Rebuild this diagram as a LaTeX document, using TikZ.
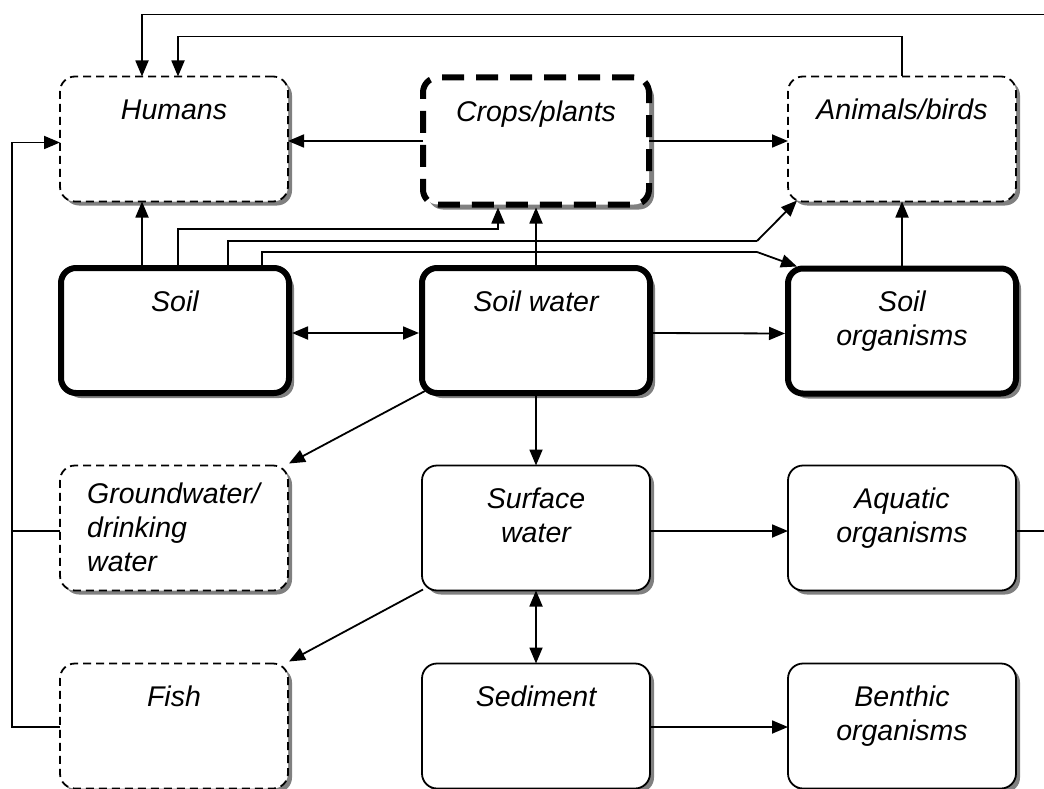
\documentclass[tikz,border=0pt]{standalone}
\usepackage{fontspec}
\setmainfont{Liberation Sans}
\usetikzlibrary{arrows.meta,shadows,calc}

\begin{document}
\begin{tikzpicture}[x=1pt,y=-1pt,
  box/.style={rounded corners=15pt, minimum width=228pt, minimum height=125pt,
    fill=white, inner sep=0pt, outer sep=0pt},
  thinbox/.style={box, draw, line width=1.8pt,
    drop shadow={shadow xshift=4pt, shadow yshift=-4pt, fill=black!50, opacity=1}},
  dashbox/.style={thinbox, dash pattern=on 8pt off 5pt},
  heavybox/.style={box, draw, line width=6pt,
    drop shadow={shadow xshift=5pt, shadow yshift=-5pt, fill=black!50, opacity=1}},
  heavydash/.style={heavybox, dash pattern=on 22pt off 12pt},
  lbl/.style={font=\fontsize{28.5}{34}\selectfont\itshape, align=center, anchor=base, inner sep=0pt},
  link/.style={line width=1.8pt},
  arr/.style={link, -{Triangle[length=16pt,width=13pt]}},
  biarr/.style={link, {Triangle[length=16pt,width=13pt]}-{Triangle[length=16pt,width=13pt]}},
]
\useasboundingbox (0,0) rectangle (1044,789);
\clip (0,0) rectangle (1044,789);

% receptor boxes, top row
\node[dashbox]  (humans)  at (174,139) {};
\node[heavydash, minimum width=226pt, minimum height=127pt] (crops) at (536,141) {};
\node[dashbox]  (animals) at (902,139) {};
% soil compartment row
\node[heavybox] (soil)    at (175,330.5) {};
\node[heavybox] (soilw)   at (536,330.5) {};
\node[heavybox] (soilorg) at (902,331) {};
% water row
\node[dashbox]  (ground)  at (174,528) {};
\node[thinbox]  (surf)    at (536,528) {};
\node[thinbox]  (aqua)    at (902,528) {};
% sediment row
\node[dashbox]  (fish)    at (174,726) {};
\node[thinbox]  (sed)     at (536,726) {};
\node[thinbox]  (benth)   at (902,726) {};

% labels (a multi-line label sits on the baseline of its last line)
\node[lbl] (humans-t)  at ($(humans.north)+(0,43)$)  {Humans};
\node[lbl] (crops-t)   at ($(crops.north)+(0,44)$)   {Crops/plants};
\node[lbl] (animals-t) at ($(animals.north)+(0,43)$) {Animals/birds};
\node[lbl] (soil-t)    at ($(soil.north)+(0,43)$)    {Soil};
\node[lbl] (soilw-t)   at ($(soilw.north)+(0,43)$)   {Soil water};
\node[lbl] (soilorg-t) at ($(soilorg.north)+(0,77)$) {Soil\\organisms};
\node[lbl, align=left, anchor=base west] (ground-t) at ($(ground.north west)+(27,106)$) {Groundwater/\\drinking\\water};
\node[lbl] (surf-t)    at ($(surf.north)+(0,77)$)    {Surface\\water};
\node[lbl] (aqua-t)    at ($(aqua.north)+(0,77)$)    {Aquatic\\organisms};
\node[lbl] (fish-t)    at ($(fish.north)+(0,43)$)    {Fish};
\node[lbl] (sed-t)     at ($(sed.north)+(0,43)$)     {Sediment};
\node[lbl] (benth-t)   at ($(benth.north)+(0,77)$)   {Benthic\\organisms};

% transfers out of the crops
\draw[arr] (crops.west) -- (crops.west -| humans.east);
\draw[arr] (crops.east) -- (crops.east -| animals.west);

% transfers out of the soil
\draw[arr, shorten <=3pt] ($(soil.north)+(-33,0)$) -- ($(humans.south)+(-32,0)$);
\draw[arr, shorten >=3pt] ($(soil.north)+(3,0)$) |- ($(crops.south)+(-38,24.5)$) -- ($(crops.south)+(-38,0)$);
\draw[link] ($(soil.north)+(53,0)$) |- (757,241) coordinate (bendA);
\draw[arr] (bendA) -- ($(animals.south west)+(9,-1)$);
\draw[link] ($(soil.north)+(87,0)$) |- (757,252) coordinate (bendB);
\draw[arr] (bendB) -- ($(soilorg.north west)+(9,-2)$);
\draw[biarr, shorten <=3pt, shorten >=3pt] ($(soil.east)+(0,2.5)$) -- ($(soilw.west)+(0,2.5)$);

% transfers out of the soil water
\draw[arr, shorten >=3pt] (soilw.north) -- (soilw.north |- crops.south);
\draw[arr, shorten <=3pt] ($(soilw.east)+(0,2.5)$) -- ($(soilorg.west)+(-3,2.5)$);
\draw[arr, shorten <=3pt] (soilorg.north) -- (soilorg.north |- animals.south);
\draw[arr] ($(soilw.south west)+(3,-2)$) -- ($(ground.north east)+(1,-2)$);
\draw[arr, shorten <=3pt] (soilw.south) -- (surf.north);

% surface water and sediment
\draw[arr] ($(surf.east)+(0,3)$) -- ($(aqua.west)+(0,3)$);
\draw[arr] ($(surf.south west)+(1,-1)$) -- ($(fish.north east)+(1,-2)$);
\draw[biarr] (surf.south) -- (sed.north);
\draw[arr] ($(sed.east)+(0,1)$) -- ($(benth.west)+(0,1)$);

% uptake routes back to humans
\draw[arr] ($(ground.west)+(0,3)$) -| ($(humans.west)+(-48,3.5)$) -- ($(humans.west)+(0,3.5)$);
\draw[link] ($(fish.west)+(0,1)$) -| ($(ground.west)+(-48,3)$);
\draw[arr] (animals.north) |- ($(humans.north)+(4,-40)$) -- ($(humans.north)+(4,0)$);
\draw[arr] ($(aqua.east)+(0,3)$) -- ++(50,0) |- ($(humans.north)+(-32,-62)$) -- ($(humans.north)+(-32,0)$);
\end{tikzpicture}
\end{document}
